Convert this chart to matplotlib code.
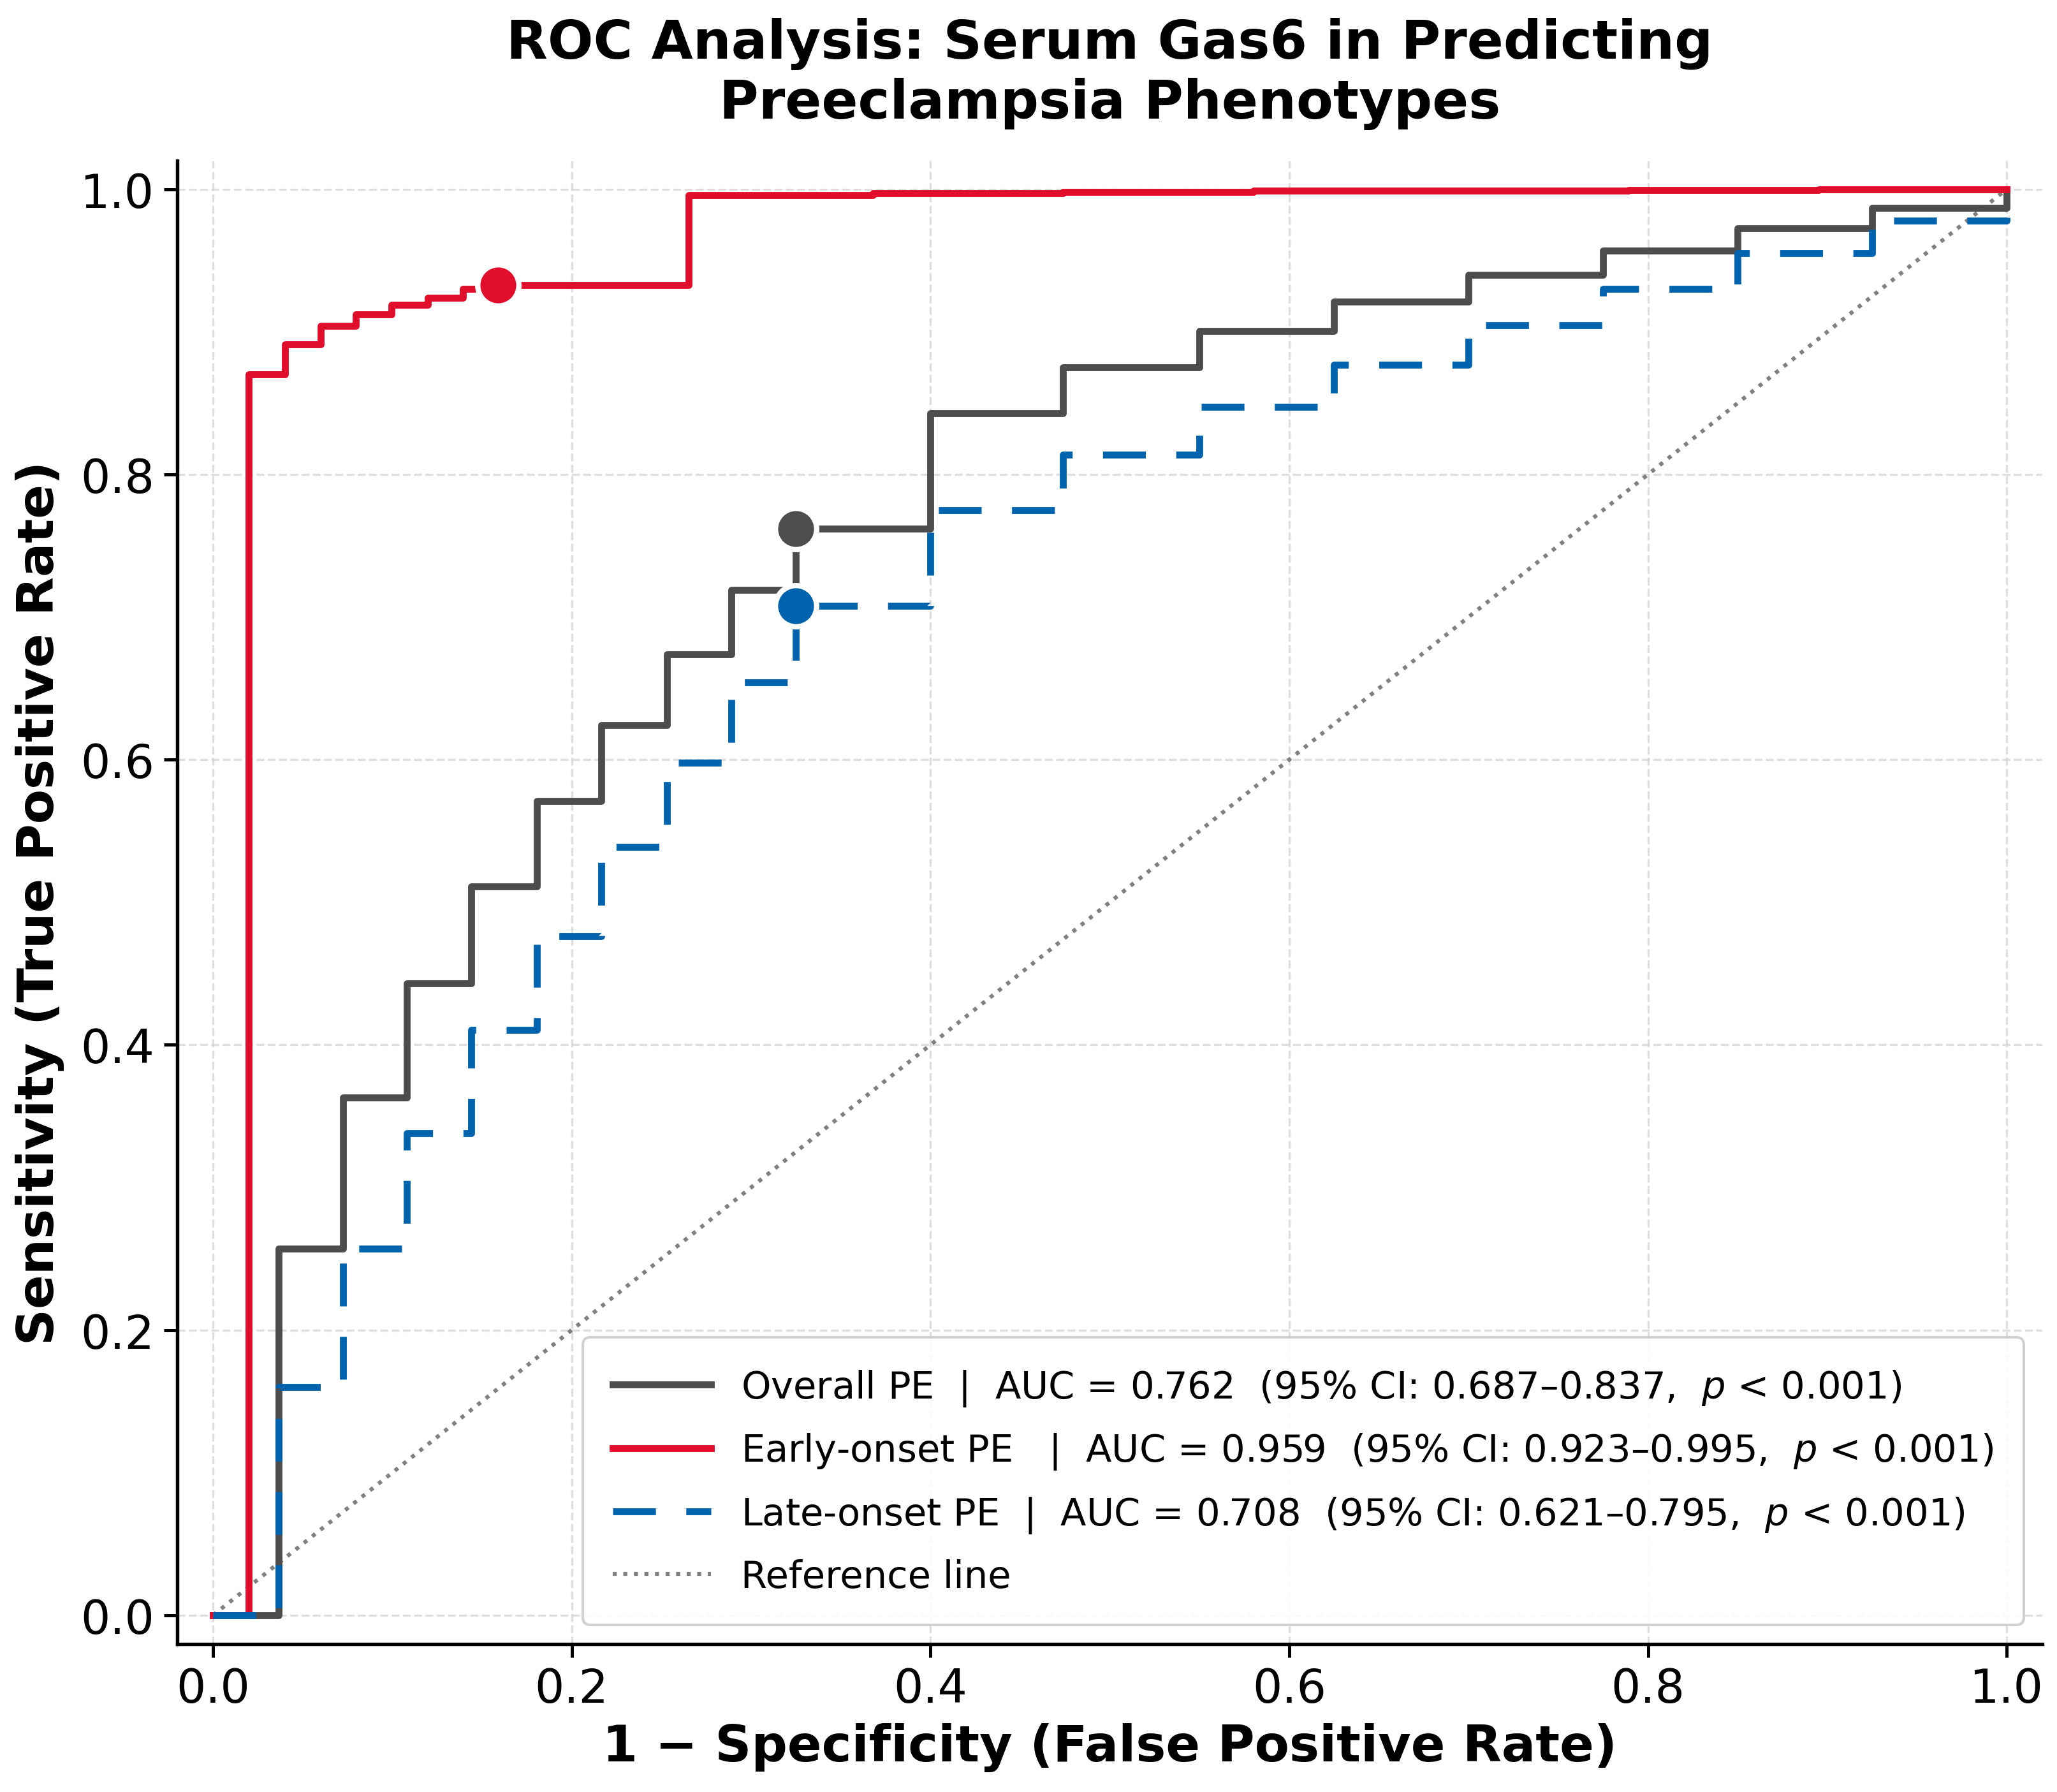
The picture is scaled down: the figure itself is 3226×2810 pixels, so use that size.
import numpy as np
import matplotlib
matplotlib.use("Agg")
import matplotlib.pyplot as plt

# ROC curve corners (fpr, tpr)
overall_fpr = [0.0, 0.0366, 0.0724, 0.108, 0.144, 0.1807, 0.2165, 0.253, 0.289, 0.325,
               0.40, 0.474, 0.55, 0.625, 0.70, 0.775, 0.85, 0.925, 1.0]
overall_tpr = [0.0, 0.257, 0.363, 0.443, 0.511, 0.571, 0.624, 0.674, 0.719, 0.762,
               0.843, 0.875, 0.9005, 0.921, 0.940, 0.957, 0.9726, 0.987, 1.0]

late_fpr = overall_fpr
late_tpr = [0.0, 0.160, 0.257, 0.338, 0.4105, 0.476, 0.539, 0.598, 0.654, 0.708,
            0.775, 0.814, 0.8475, 0.877, 0.9046, 0.930, 0.955, 0.978, 1.0]

early_fpr = [0.0, 0.020, 0.040, 0.060, 0.0795, 0.0996, 0.1197, 0.1394, 0.159, 0.265,
             0.368, 0.474, 0.580, 0.789, 0.895, 1.0]
early_tpr = [0.0, 0.870, 0.891, 0.904, 0.912, 0.919, 0.924, 0.930, 0.933, 0.9958,
             0.997, 0.998, 0.9988, 0.9994, 0.9998, 1.0]

# optimal cut-off points (Youden)
cut_fpr = [0.325, 0.159, 0.325]
cut_tpr = [0.762, 0.933, 0.708]

names = ["Overall PE", "Early-onset PE", "Late-onset PE"]
aucs = [0.762, 0.959, 0.708]
ci_low = [0.687, 0.923, 0.621]
ci_high = [0.837, 0.995, 0.795]
pads = ["  ", "   ", "  "]

colors = ["#4D4D4D", "#E00D2B", "#0063AE"]

fig = plt.figure(figsize=(3226 / 300, 2811 / 300), dpi=300)
ax = fig.add_axes([0.0861, 0.0827, 0.993 - 0.0861, 0.91 - 0.0827])

labels = [f"{n}{p}|  AUC = {a:.3f}  (95% CI: {lo:.3f}\u2013{hi:.3f},  $p$ < 0.001)"
          for n, p, a, lo, hi in zip(names, pads, aucs, ci_low, ci_high)]

curves = [(overall_fpr, overall_tpr), (early_fpr, early_tpr), (late_fpr, late_tpr)]
styles = ["-", "-", (0, (6.2, 4.4))]
for i, (fx, ty) in enumerate(curves):
    ax.step(fx, ty, where="post", color=colors[i], lw=2.6, linestyle=styles[i],
            label=labels[i], zorder=3)

ax.plot([0, 1], [0, 1], linestyle=":", color="gray", lw=1.5, label="Reference line", zorder=2)

for i in range(3):
    ax.plot(cut_fpr[i], cut_tpr[i], "o", color=colors[i], markersize=15.5,
            markeredgecolor="white", markeredgewidth=2, zorder=5)

ax.set_xlim(-0.02, 1.02)
ax.set_ylim(-0.02, 1.02)
ax.set_xticks(np.arange(0, 1.01, 0.2))
ax.set_yticks(np.arange(0, 1.01, 0.2))
ax.tick_params(labelsize=17.5, width=1.2, length=5)
ax.grid(True, linestyle="--", linewidth=0.8, color="#d0d0d0", alpha=0.7)
ax.set_axisbelow(True)
for s in ["top", "right"]:
    ax.spines[s].set_visible(False)
for s in ["left", "bottom"]:
    ax.spines[s].set_linewidth(1.3)

ax.set_xlabel("1 \u2212 Specificity (False Positive Rate)", fontsize=19, fontweight="bold")
ax.set_ylabel("Sensitivity (True Positive Rate)", fontsize=19, fontweight="bold", labelpad=6)
ax.set_title("ROC Analysis: Serum Gas6 in Predicting\nPreeclampsia Phenotypes",
             fontsize=20.2, fontweight="bold", pad=16)

leg = ax.legend(loc="lower right", fontsize=14.2, handlelength=2.6, labelspacing=0.62,
                borderpad=0.8, handletextpad=0.8, framealpha=0.9, edgecolor="#cccccc")

fig.savefig("out.png", dpi=300)
